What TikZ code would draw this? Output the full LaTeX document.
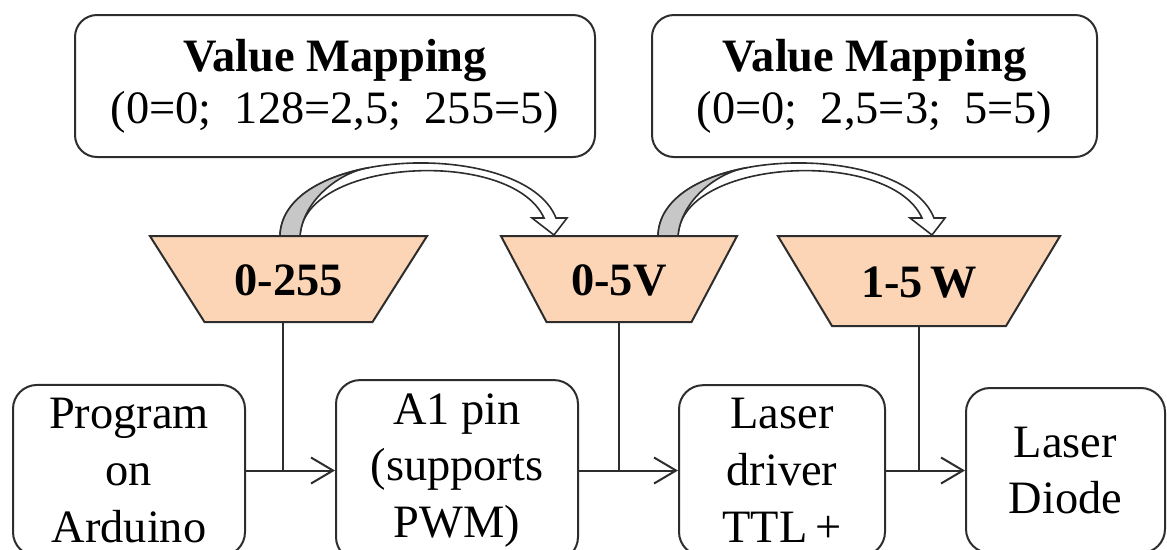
\documentclass[tikz,border=0pt]{standalone}
\usepackage{fontspec}
\setmainfont{Liberation Serif}
\usetikzlibrary{shapes.geometric,arrows.meta}
\definecolor{peach}{RGB}{251,213,181}
\definecolor{edge}{RGB}{45,45,45}

\begin{document}
\begin{tikzpicture}[x=0.25pt,y=-0.25pt,
    mapbox/.style={draw=edge,line width=0.5pt,rounded corners=5.5pt,minimum height=35.5pt,align=center,font=\fontsize{11.6}{13}\selectfont},
    stage/.style={draw=edge,line width=0.5pt,rounded corners=6pt,minimum height=41.25pt,align=center,font=\fontsize{11.6}{14.2}\selectfont},
    rangebox/.style={trapezium,shape border rotate=180,align=center,text height=8pt,text depth=0pt,inner xsep=0pt,inner ysep=6.75pt,draw=edge,line width=0.5pt,fill=peach,font=\fontsize{11.6}{14}\selectfont\bfseries},
    wire/.style={draw=edge,line width=0.5pt},
    flow/.style={wire,-{Straight Barb[length=5.5pt,width=6.5pt]}}]

    \useasboundingbox (0,0) rectangle (1167,549);
    \clip (0,0) rectangle (1167,549);

    % Mapping boxes
    \node[mapbox,minimum width=130pt] (map1) at (335,86) {\textbf{Value Mapping}\\(0=0;\ \ 128=2,5;\ \ 255=5)};
    \node[mapbox,minimum width=111.25pt] (map2) at (874.5,86) {\textbf{Value Mapping}\\(0=0;\ \ 2,5=3;\ \ 5=5)};

    % Value ranges (text width = short side)
    \node[rangebox,text width=42pt,trapezium angle=57.6] (r1) at (288.5,279) {0-255};
    \node[rangebox,text width=36.25pt,trapezium angle=62.1] (r2) at (619,279) {0-5V};
    \node[rangebox,text width=43.5pt,inner ysep=7.25pt,trapezium angle=59] (r3) at (919,281) {1-5\,W};

    % Curved mapping arrows (tail shaded)
    \foreach \dx in {0,378} {
      \begin{scope}[shift={(\dx,0)}]
        \filldraw[fill=white,draw=edge,line width=0.4pt]
          (280,236) .. controls (282,145) and (525,139) .. (556,218)
          -- (567,218) -- (554,235) -- (532,218) -- (544,218)
          .. controls (512,147) and (303,158) .. (300,236) -- cycle;
        \filldraw[fill=black!22,draw=edge,line width=0.4pt]
          (280,236) .. controls (280.8,199.6) and (320.2,176.8) .. (369.1,167.6)
          .. controls (340,172) and (303,200) .. (300,236) -- cycle;
      \end{scope}
    }

    % Signal chain
    \node[stage,minimum width=58pt] (prog) at (129,470.5) {Program\\on\\Arduino};
    \node[stage,minimum width=60.5pt] (pin) at (457,470.5) {A1 pin\\(supports\\PWM)};
    \node[stage,minimum width=51.5pt] (drv) at (782,470.5) {Laser\\driver\\TTL\,+};
    \node[stage,minimum width=49.75pt] (diode) at (1065.5,470.5) {Laser\\Diode};

    \draw[flow] (prog) -- (pin);
    \draw[flow] (pin) -- (drv);
    \draw[flow] (drv) -- (diode);

    % Ranges feed the links
    \draw[wire] ([xshift=-1.5pt]r1.south) -- ([xshift=-1.5pt]r1.south |- prog.east);
    \draw[wire] (r2.south) -- (r2.south |- pin.east);
    \draw[wire] (r3.south) -- (r3.south |- drv.east);
\end{tikzpicture}
\end{document}
